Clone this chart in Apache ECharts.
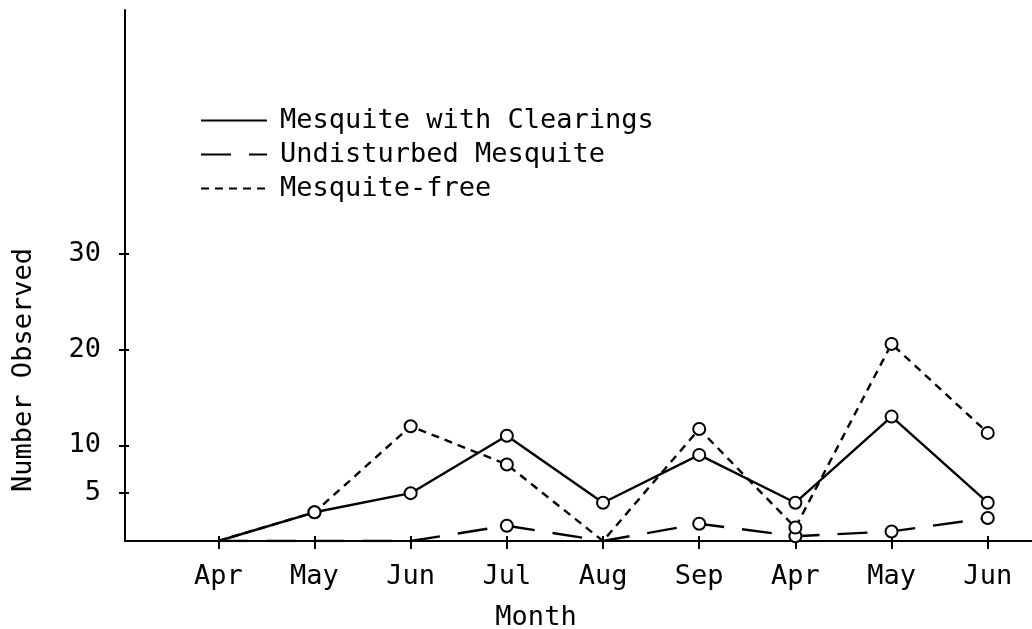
<!DOCTYPE html>
<html>
<head>
    <meta charset="utf-8">
    <title>Number Observed by Month</title>
    <style>
        html, body { margin: 0; padding: 0; background: #fff; }
        #chart { width: 1032px; height: 629px; }
    </style>
</head>
<body>
    <div id="chart"></div>
    <script src="https://cdn.jsdelivr.net/npm/echarts@6/dist/echarts.min.js"></script>
    <script>
        // data
        var months = ['Apr', 'May', 'Jun', 'Jul', 'Aug', 'Sep', 'Apr', 'May', 'Jun'];
        var clearings = [0, 3, 5, 11, 4, 9, 4, 13, 4];
        var undisturbed = [0, 0, 0, 1.6, 0, 1.8, 0.5, 1, 2.4];
        var mesquiteFree = [0, 3, 12, 8, 0, 11.7, 1.4, 20.6, 11.3];
        var yTicks = [5, 10, 20, 30];

        var font = 'DejaVu Sans Mono';
        var monthIdx = months.map(function (m, i) { return i; });

        function pairs(vals) {
            return vals.map(function (v, i) { return [i, v]; });
        }

        function mk(name, vals, dash) {
            return {
                name: name,
                type: 'line',
                data: pairs(vals),
                symbol: function (v) { return v[1] === 0 ? 'none' : 'emptyCircle'; },
                symbolSize: 12,
                itemStyle: { color: '#000', borderColor: '#000', borderWidth: 2 },
                lineStyle: { color: '#000', width: 2.4, type: dash },
                animation: false
            };
        }

        var chart = echarts.init(document.getElementById('chart'));
        var option = {
            backgroundColor: '#fff',
            animation: false,
            grid: { left: 125, right: 0, top: 10, bottom: 88 },
            legend: {
                orient: 'vertical',
                left: 195,
                top: 102,
                itemWidth: 66,
                itemHeight: 14,
                itemGap: 7,
                itemStyle: { opacity: 0 },
                textStyle: { fontFamily: font, fontSize: 27, lineHeight: 26, color: '#000', padding: [0, 0, 0, 8] },
                data: ['Mesquite with Clearings', 'Undisturbed Mesquite', 'Mesquite-free']
            },
            xAxis: [{
                type: 'value',
                min: -0.97,
                max: 8.46,
                splitLine: { show: false },
                axisLine: { show: true, onZero: false, lineStyle: { color: '#000', width: 2 } },
                axisTick: { show: true, length: 8, customValues: monthIdx, lineStyle: { color: '#000', width: 2 } },
                axisLabel: {
                    customValues: monthIdx,
                    margin: 22,
                    fontFamily: font, fontSize: 27, color: '#000',
                    formatter: function (v) { return months[Math.round(v)]; }
                }
            }, {
                type: 'value',
                min: -0.97,
                max: 8.46,
                position: 'bottom',
                splitLine: { show: false },
                axisLine: { show: false, onZero: false },
                axisTick: { show: true, inside: true, length: 5, customValues: monthIdx, lineStyle: { color: '#000', width: 2 } },
                axisLabel: { show: false }
            }],
            yAxis: [{
                type: 'value',
                min: 0,
                max: 55.5,
                splitLine: { show: false },
                axisLine: { show: true, onZero: false, lineStyle: { color: '#000', width: 2 } },
                axisTick: { show: true, length: 6, customValues: yTicks, lineStyle: { color: '#000', width: 2 } },
                axisLabel: { customValues: yTicks, margin: 24, fontFamily: font, fontSize: 27, color: '#000' }
            }, {
                type: 'value',
                min: 0,
                max: 55.5,
                position: 'left',
                splitLine: { show: false },
                axisLine: { show: false, onZero: false },
                axisTick: { show: true, inside: true, length: 4, customValues: yTicks, lineStyle: { color: '#000', width: 2 } },
                axisLabel: { show: false }
            }],
            graphic: [{
                type: 'text',
                x: 24,
                y: 370,
                rotation: Math.PI / 2,
                style: { text: 'Number Observed', fontFamily: font, fontSize: 27, fill: '#000', textAlign: 'center', textVerticalAlign: 'middle' }
            }, {
                type: 'text',
                x: 536,
                y: 618,
                style: { text: 'Month', fontFamily: font, fontSize: 27, fill: '#000', textAlign: 'center', textVerticalAlign: 'middle' }
            }],
            series: [
                mk('Mesquite with Clearings', clearings, 'solid'),
                mk('Undisturbed Mesquite', undisturbed, [30, 18]),
                mk('Mesquite-free', mesquiteFree, [8, 6])
            ]
        };
        chart.setOption(option);
    </script>
</body>
</html>
